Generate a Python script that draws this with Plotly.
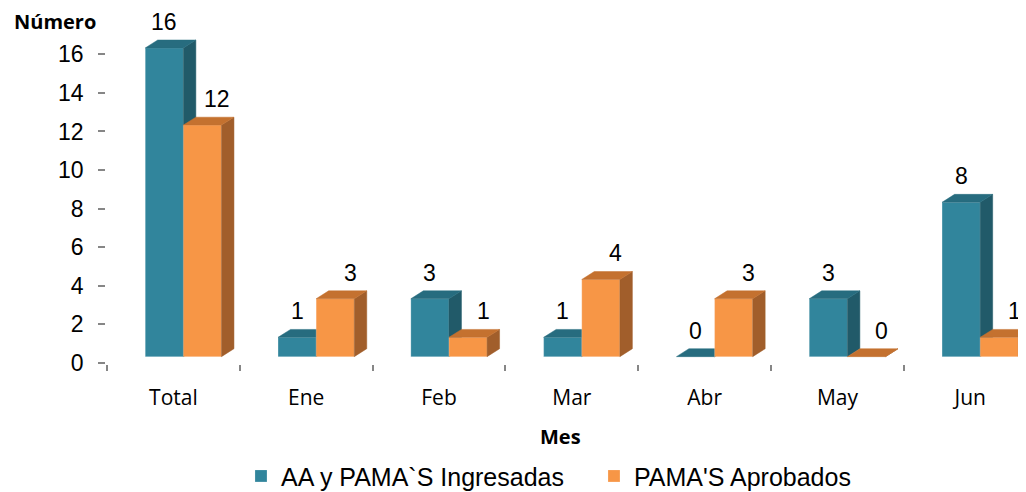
import plotly.graph_objects as go

# ---------------- data ----------------
categories = ["Total", "Ene", "Feb", "Mar", "Abr", "May", "Jun"]
ingresadas = [16, 1, 3, 1, 0, 3, 8]
aprobados = [12, 3, 1, 4, 3, 0, 1]
series_names = ["AA y PAMA`S Ingresadas", "PAMA'S Aprobados"]
y_tick_values = [0, 2, 4, 6, 8, 10, 12, 14, 16]
x_title = "Mes"
y_title = "Número"

# ---------------- style / geometry ----------------
W = 0.287      # bar front width (x units)
SHIFT = 0.075  # pair offset from category centre
DX = 0.094     # 3D depth in x units
DY = 0.41      # 3D depth in y units
BASE = 0.33    # floor lift of the front faces
FONT_NUM = "Liberation Sans, Arial, sans-serif"
FONT_CAT = "Open Sans, sans-serif"

styles = [
    dict(front="#31859C", side="#215A69", top="#276C7F", offset=SHIFT - W, xshift=0),
    dict(front="#F79646", side="#A15E2B", top="#C4712F", offset=SHIFT, xshift=15),
]

idx = list(range(len(categories)))
fig = go.Figure()
annotations = []

for s, (name, vals, st) in enumerate(zip(series_names, [ingresadas, aprobados], styles)):
    fig.add_trace(go.Bar(
        x=idx, y=vals, base=BASE, width=W, offset=st["offset"], name=name,
        marker=dict(color=st["front"], line=dict(color="rgba(255,255,255,0.35)", width=0.6)),
        zorder=2 * s, hoverinfo="skip",
    ))
    sx, sy, tx, ty = [], [], [], []
    for i, v in zip(idx, vals):
        L = i + st["offset"]
        R = L + W
        T = BASE + v
        sx += [R, R + DX, R + DX, R, R, None]
        sy += [BASE, BASE + DY, T + DY, T, BASE, None]
        tx += [L, R, R + DX, L + DX, L, None]
        ty += [T, T, T + DY, T + DY, T, None]
        annotations.append(dict(
            x=L + W / 2, y=T, xref="x", yref="y", text=str(v), showarrow=False,
            yanchor="middle", yshift=26, xshift=st["xshift"],
            font=dict(family=FONT_NUM, size=23, color="#000000"),
        ))
    fig.add_trace(go.Scatter(x=sx, y=sy, mode="lines", fill="toself", fillcolor=st["side"],
                             line=dict(width=0.5, color=st["side"]), showlegend=False,
                             hoverinfo="skip", zorder=2 * s + 1))
    fig.add_trace(go.Scatter(x=tx, y=ty, mode="lines", fill="toself", fillcolor=st["top"],
                             line=dict(width=0.5, color=st["top"]), showlegend=False,
                             hoverinfo="skip", zorder=2 * s + 1))

annotations.append(dict(x=-0.0566, y=1.04, xref="paper", yref="paper", text="<b>" + y_title + "</b>",
                        showarrow=False, xanchor="center", yanchor="middle",
                        font=dict(family=FONT_CAT, size=20, color="#000000")))
annotations.append(dict(x=0.493, y=-0.2256, xref="paper", yref="paper", text="<b>" + x_title + "</b>",
                        showarrow=False, xanchor="center", yanchor="middle",
                        font=dict(family=FONT_CAT, size=20, color="#000000")))

fig.update_layout(
    width=1018, height=484,
    margin=dict(l=99, r=0, t=27, b=129, autoexpand=False),
    paper_bgcolor="white", plot_bgcolor="white",
    barmode="overlay",
    showlegend=True,
    legend=dict(orientation="h", x=0.1458, xanchor="left", y=-0.345, yanchor="middle",
                font=dict(family=FONT_NUM, size=25, color="#000000"), itemwidth=30,
                entrywidth=308, entrywidthmode="pixels",
                bgcolor="rgba(0,0,0,0)"),
    annotations=annotations,
    xaxis=dict(
        range=[-0.5, 6.42], tickvals=idx, ticktext=categories, ticks="",
        showgrid=False, zeroline=False, showline=True, linecolor="#868686", linewidth=1.5,
        tickfont=dict(family=FONT_CAT, size=21, color="#000000"), ticklabelstandoff=15,
        minor=dict(tickvals=[i - 0.5 for i in idx], ticks="outside", ticklen=6,
                   tickcolor="#868686", tickwidth=1.5),
    ),
    yaxis=dict(
        range=[0, 17], tickvals=y_tick_values, ticks="outside", ticklen=7,
        tickcolor="#868686", tickwidth=1.5,
        showgrid=False, zeroline=False, showline=True, linecolor="#868686", linewidth=1.5,
        tickfont=dict(family=FONT_NUM, size=23, color="#000000"), ticklabelstandoff=10,
    ),
)

fig.write_html("out.html")
